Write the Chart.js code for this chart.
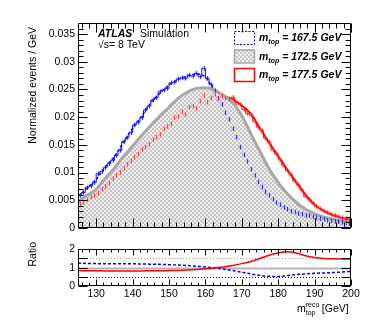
<!DOCTYPE html>
<html><head><meta charset="utf-8">
<script src="https://cdn.jsdelivr.net/npm/chart.js@4.4.1/dist/chart.umd.min.js"></script>
<style>
html,body{margin:0;padding:0;background:#fff;}
#wrap{position:relative;width:390px;height:321px;overflow:hidden;}
canvas{position:absolute;left:0;}
#c1{top:0;width:390px;height:240px;}
#c2{top:240px;width:390px;height:81px;}
</style></head><body>
<div id="wrap"><canvas id="c1" width="390" height="240"></canvas><canvas id="c2" width="390" height="81"></canvas></div>
<script>
// ---------- DATA ----------
const X_FIT = [125,127.5,130,132.5,135,137.5,140,142.5,145,147.5,150,152.5,155,157.5,160,162.5,165,167.5,170,172.5,175,177.5,180,182.5,185,187.5,190,192.5,195,197.5,200];
// smooth template fits (x 1e-3 events/GeV)
const FIT_1675 = [5.7,7.2,8.8,11.0,12.9,15.5,18.0,20.2,22.6,24.3,25.8,26.8,27.4,27.8,27.2,24.6,21.4,17.6,13.3,10.4,7.8,5.8,4.4,3.4,2.8,2.4,2.0,1.7,1.3,1.0,0.8];
const FIT_1725 = [4.8,5.9,7.0,9.0,10.8,12.9,14.8,16.7,18.5,20.2,21.8,23.4,24.5,25.2,25.3,24.9,23.9,22.6,20.3,17.0,13.8,10.7,8.2,6.2,4.6,3.4,2.6,2.0,1.6,1.3,1.1];
const FIT_1775 = [4.3,5.2,6.1,7.6,9.2,10.7,12.4,14.0,15.5,16.9,18.6,20.3,21.5,22.6,23.2,23.6,23.7,23.2,22.1,20.6,18.0,15.4,13.0,10.5,8.2,6.0,4.2,3.1,2.3,1.8,1.4];
// histogram bin centres (1 GeV bins)
const BIN_CENTERS = [125.5,126.5,127.5,128.5,129.5,130.5,131.5,132.5,133.5,134.5,135.5,136.5,137.5,138.5,139.5,140.5,141.5,142.5,143.5,144.5,145.5,146.5,147.5,148.5,149.5,150.5,151.5,152.5,153.5,154.5,155.5,156.5,157.5,158.5,159.5,160.5,161.5,162.5,163.5,164.5,165.5,166.5,167.5,168.5,169.5,170.5,171.5,172.5,173.5,174.5,175.5,176.5,177.5,178.5,179.5,180.5,181.5,182.5,183.5,184.5,185.5,186.5,187.5,188.5,189.5,190.5,191.5,192.5,193.5,194.5,195.5,196.5,197.5,198.5,199.5];
const HIST_1675 = [5.9,6.4,7.3,7.6,8.2,9.8,10.2,10.9,11.6,12.2,13.1,14.0,15.6,16.3,17.2,18.6,19.1,19.9,21.3,22.0,23.1,23.5,24.6,24.9,25.2,26.2,26.3,26.9,27.1,27.0,27.6,27.4,27.9,27.3,28.8,27.0,25.9,24.8,23.4,22.3,20.8,19.6,17.9,16.4,14.6,13.2,12.0,10.6,9.5,8.3,7.4,6.5,5.9,5.2,4.6,4.2,3.7,3.4,3.0,2.9,2.6,2.5,2.3,2.2,2.0,1.9,1.7,1.6,1.4,1.3,1.2,1.1,1.0,0.9,0.8];
const HIST_1775 = [4.3,4.6,5.1,5.6,5.9,6.3,7.0,7.5,8.1,8.9,9.5,10.0,10.8,11.5,12.1,12.8,13.3,14.2,14.6,15.1,15.9,16.4,16.9,17.9,18.3,18.8,19.9,20.1,21.0,20.5,21.8,22.0,21.6,22.9,23.9,22.7,23.4,24.1,23.3,23.8,23.5,23.3,23.6,22.6,22.3,21.4,20.7,20.4,19.2,18.2,17.6,16.2,15.5,14.1,13.4,12.3,11.2,10.4,9.6,8.5,7.8,6.8,5.7,5.2,4.5,3.9,3.5,3.1,2.8,2.5,2.3,2.1,1.9,1.7,1.5];
const HIST_ERR = 0.4; // x 1e-3
// ratio panel (template / 172.5 GeV template)
const RATIO_1675 = [1.24,1.23,1.22,1.21,1.21,1.21,1.21,1.20,1.19,1.18,1.16,1.14,1.12,1.08,1.04,0.99,0.93,0.84,0.75,0.66,0.58,0.53,0.52,0.57,0.62,0.66,0.69,0.71,0.73,0.76,0.80];
const RATIO_1775 = [0.84,0.83,0.83,0.82,0.82,0.82,0.82,0.82,0.83,0.83,0.84,0.85,0.87,0.90,0.94,0.99,1.04,1.12,1.22,1.34,1.50,1.68,1.81,1.86,1.80,1.65,1.55,1.50,1.48,1.47,1.46];
const RATIO_REF = [0.5, 1, 1.5];
const X_MAJOR = [130,140,150,160,170,180,190,200];
const X_MINOR = [126,128,132,134,136,138,142,144,146,148,152,154,156,158,162,164,166,168,172,174,176,178,182,184,186,188,192,194,196,198];
const Y_MAJOR = [0,0.005,0.01,0.015,0.02,0.025,0.03,0.035];
const Y_MINOR = [0.001,0.002,0.003,0.004,0.006,0.007,0.008,0.009,0.011,0.012,0.013,0.014,0.016,0.017,0.018,0.019,0.021,0.022,0.023,0.024,0.026,0.027,0.028,0.029,0.031,0.032,0.033,0.034,0.036];
const R_MAJOR = [0,0.5,1,1.5,2];
const LEGEND = ['167.5','172.5','177.5'];

// ---------- HELPERS ----------
const FONT = "'Liberation Sans', Arial, Helvetica, sans-serif";
const pts = (xs, ys, s) => xs.map((x,i)=>({x:x, y:ys[i]*s}));
function checker(){
  const c=document.createElement('canvas'); c.width=4; c.height=4;
  const g=c.getContext('2d'); g.fillStyle='#eeeeee'; g.fillRect(0,0,4,4);
  g.fillStyle='#c6c6c6'; g.fillRect(0,0,2,2); g.fillRect(2,2,2,2);
  return g.createPattern(c,'repeat');
}
const fmt = v => parseFloat(v.toFixed(4)).toString();

function frameTicks(chart, xMaj, xMin, yMaj, yMin, lxM, lxm, lyM, lym){
  const {ctx, chartArea:a, scales:{x,y}} = chart;
  ctx.save();
  ctx.strokeStyle='#000'; ctx.lineWidth=1;
  ctx.beginPath();
  const L=Math.round(a.left)+0.5, R=Math.round(a.right)-0.5, T=Math.round(a.top)+0.5, B=Math.round(a.bottom)-0.5;
  ctx.rect(L,T,R-L,B-T);
  const xt=(v,len)=>{const p=Math.round(x.getPixelForValue(v))+0.5; ctx.moveTo(p,B); ctx.lineTo(p,B-len); ctx.moveTo(p,T); ctx.lineTo(p,T+len);};
  const yt=(v,len)=>{const p=Math.round(y.getPixelForValue(v))+0.5; ctx.moveTo(L,p); ctx.lineTo(L+len,p); ctx.moveTo(R,p); ctx.lineTo(R-len,p);};
  xMaj.forEach(v=>xt(v,lxM)); xMin.forEach(v=>xt(v,lxm));
  yMaj.forEach(v=>yt(v,lyM)); yMin.forEach(v=>yt(v,lym));
  ctx.stroke(); ctx.restore();
}
function mtop(ctx, x, base, size, rest){
  const st = 'italic bold ';
  ctx.font = st+size+'px '+FONT; ctx.fillText('m',x,base); x+=ctx.measureText('m').width;
  ctx.font = st+Math.round(size*0.68)+'px '+FONT; ctx.fillText('top',x,base+3); x+=ctx.measureText('top').width;
  ctx.font = st+size+'px '+FONT; ctx.fillText(rest,x,base);
}

const PAT = checker();

// ---------- MAIN PANEL ----------
const mainPlugin = {
  id:'mainDeco',
  afterDatasetDraw(chart, args){
    if(args.index!==0) return;
    const {ctx, scales:{x,y}} = chart;
    ctx.save();
    ctx.beginPath(); const a=chart.chartArea; ctx.rect(a.left,a.top,a.right-a.left,a.bottom-a.top); ctx.clip();
    const band=(vals,fill,line)=>{
      BIN_CENTERS.forEach((c,i)=>{
        const v=vals[i], x0=x.getPixelForValue(c-0.5), x1=x.getPixelForValue(c+0.5);
        const y0=y.getPixelForValue((v+HIST_ERR)*1e-3), y1=y.getPixelForValue((v-HIST_ERR)*1e-3);
        ctx.fillStyle=fill; ctx.fillRect(x0,y0,x1-x0,y1-y0);
        const xc=Math.round(x.getPixelForValue(c))+0.5;
        ctx.strokeStyle=line; ctx.lineWidth=1; ctx.beginPath(); ctx.moveTo(xc,y0); ctx.lineTo(xc,y1); ctx.stroke();
      });
    };
    band(HIST_1675,'rgba(110,110,255,0.25)','rgba(0,0,255,0.75)');
    band(HIST_1775,'rgba(255,120,120,0.30)','rgba(255,0,0,0.6)');
    ctx.restore();
  },
  afterDraw(chart){
    frameTicks(chart, X_MAJOR, X_MINOR, Y_MAJOR, Y_MINOR, 9, 5, 9, 5);
    const ctx=chart.ctx;
    ctx.save();
    ctx.fillStyle='#000'; ctx.textBaseline='alphabetic';
    ctx.save(); ctx.translate(36,27); ctx.rotate(-Math.PI/2);
    ctx.font='10.5px '+FONT; ctx.textAlign='right'; ctx.fillText('Normalized events / GeV',0,0); ctx.restore();
    ctx.textAlign='left';
    ctx.font='italic bold 10.5px '+FONT; ctx.fillText('ATLAS',98,37);
    ctx.font='10.5px '+FONT; ctx.fillText('Simulation',140,37);
    ctx.fillText('\u221As= 8 TeV',98,48);
    const bx=234, bw=20, bh=13, tops=[31,49.5,68];
    ctx.save(); ctx.strokeStyle='#0000ff'; ctx.lineWidth=1; ctx.setLineDash([2,1.5]);
    ctx.strokeRect(bx+0.5,tops[0]+0.5,bw,bh); ctx.restore();
    ctx.fillStyle=PAT; ctx.fillRect(bx,tops[1],bw,bh);
    ctx.strokeStyle='#a6a6a6'; ctx.lineWidth=1.5; ctx.strokeRect(bx+0.5,tops[1]+0.5,bw,bh);
    ctx.strokeStyle='#ff0000'; ctx.lineWidth=1.5; ctx.strokeRect(bx+0.5,tops[2]+0.5,bw,bh);
    ctx.fillStyle='#000';
    LEGEND.forEach((m,i)=>mtop(ctx,259,tops[i]+10,10.5,' = '+m+' GeV'));
    ctx.restore();
  }
};

new Chart(document.getElementById('c1'), {
  type:'line',
  data:{datasets:[
    {data:pts(X_FIT,FIT_1725,1e-3), borderColor:'#a8a8a8', borderWidth:3, fill:'origin', backgroundColor:PAT, pointRadius:0, cubicInterpolationMode:'monotone'},
    {data:pts(BIN_CENTERS,HIST_1675,1e-3), borderColor:'#0000ff', borderWidth:1, stepped:'middle', pointRadius:0, fill:false},
    {data:pts(X_FIT,FIT_1675,1e-3), borderColor:'#0000ff', borderWidth:1.5, borderDash:[3,2], pointRadius:0, fill:false, cubicInterpolationMode:'monotone'},
    {data:pts(BIN_CENTERS,HIST_1775,1e-3), borderColor:'#ff0000', borderWidth:1, stepped:'middle', pointRadius:0, fill:false},
    {data:pts(X_FIT,FIT_1775,1e-3), borderColor:'#ff0000', borderWidth:2, pointRadius:0, fill:false, cubicInterpolationMode:'monotone'}
  ]},
  options:{
    responsive:false, animation:false, devicePixelRatio:1,
    layout:{padding:{top:23,right:39,bottom:12,left:0}},
    plugins:{legend:{display:false}, tooltip:{enabled:false}},
    scales:{
      x:{type:'linear', min:125, max:200, display:false},
      y:{min:0, max:0.037, afterFit(s){s.width=78;},
         grid:{display:false, drawTicks:false}, border:{display:false},
         ticks:{stepSize:0.005, includeBounds:false, padding:3, color:'#000', font:{family:FONT,size:10.5}, callback:v=>fmt(v)}}
    }
  },
  plugins:[mainPlugin]
});

// ---------- RATIO PANEL ----------
const ratioPlugin = {
  id:'ratioDeco',
  beforeDatasetsDraw(chart){
    const {ctx, chartArea:a, scales:{x,y}} = chart;
    ctx.save();
    RATIO_REF.forEach(v=>{
      const p=Math.round(y.getPixelForValue(v))+0.5;
      ctx.beginPath();
      if(v===1){ ctx.strokeStyle='#b4b4b4'; ctx.lineWidth=2; ctx.setLineDash([]); }
      else if(v>1){ ctx.strokeStyle='#a0a0a0'; ctx.lineWidth=1; ctx.setLineDash([1,2]); }
      else { ctx.strokeStyle='#000'; ctx.lineWidth=1; ctx.setLineDash([1,2]); }
      ctx.moveTo(a.left,p); ctx.lineTo(a.right,p); ctx.stroke();
    });
    ctx.restore();
  },
  afterDraw(chart){
    frameTicks(chart, X_MAJOR, X_MINOR, R_MAJOR, [], 6, 3, 9, 5);
    const ctx=chart.ctx;
    ctx.save(); ctx.fillStyle='#000';
    ctx.save(); ctx.translate(36,2); ctx.rotate(-Math.PI/2);
    ctx.font='10.5px '+FONT; ctx.textAlign='right'; ctx.fillText('Ratio',0,0); ctx.restore();
    let xx=297; const base=71.5;
    ctx.textAlign='left';
    ctx.font='10.5px '+FONT; ctx.fillText('m',xx,base); xx+=ctx.measureText('m').width;
    ctx.font='7px '+FONT; ctx.fillText('reco',xx,base-5); ctx.fillText('top',xx,base+3);
    xx+=ctx.measureText('reco').width+2.5;
    ctx.font='10.5px '+FONT; ctx.fillText('[GeV]',xx,base);
    ctx.restore();
  }
};

new Chart(document.getElementById('c2'), {
  type:'line',
  data:{datasets:[
    {data:pts(X_FIT,RATIO_1775,1), borderColor:'#ff0000', borderWidth:1.5, pointRadius:0, fill:false, cubicInterpolationMode:'monotone'},
    {data:pts(X_FIT,RATIO_1675,1), borderColor:'#0000ff', borderWidth:1.5, borderDash:[3,2], pointRadius:0, fill:false, cubicInterpolationMode:'monotone'}
  ]},
  options:{
    responsive:false, animation:false, devicePixelRatio:1,
    layout:{padding:{top:2,right:39,bottom:0,left:0}},
    plugins:{legend:{display:false}, tooltip:{enabled:false}},
    scales:{
      x:{type:'linear', min:125, max:200, afterFit(s){s.height=35;},
         grid:{display:false, drawTicks:false}, border:{display:false},
         ticks:{stepSize:10, includeBounds:false, autoSkip:false, maxRotation:0, padding:2, color:'#000', font:{family:FONT,size:10.5}}},
      y:{min:0, max:2, afterFit(s){s.width=78;},
         grid:{display:false, drawTicks:false}, border:{display:false},
         ticks:{stepSize:0.5, includeBounds:false, padding:3, color:'#000', font:{family:FONT,size:10.5}, callback:v=>fmt(v)}}
    }
  },
  plugins:[ratioPlugin]
});
</script>
</body></html>
